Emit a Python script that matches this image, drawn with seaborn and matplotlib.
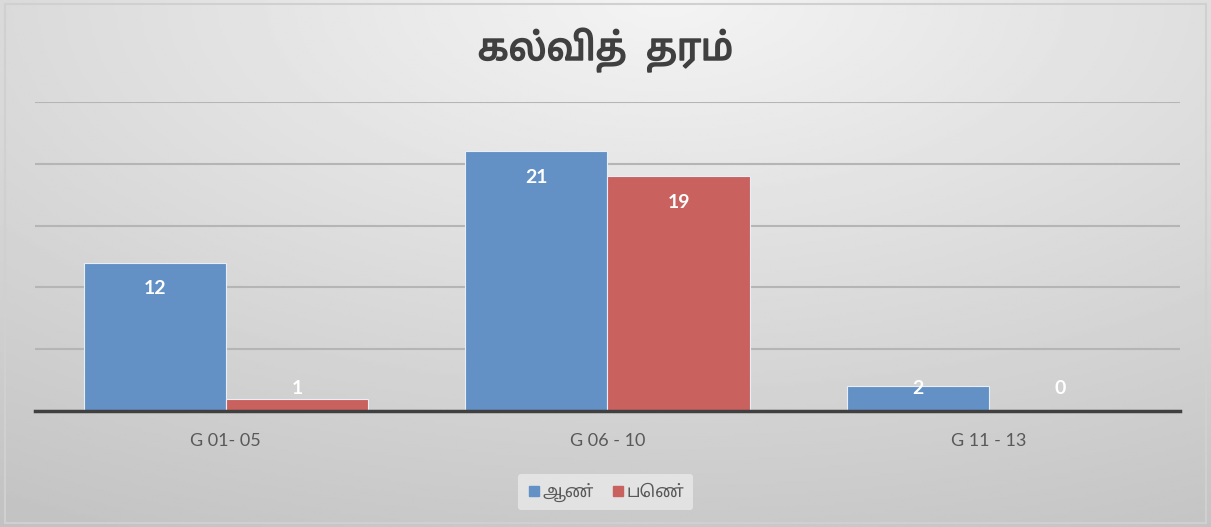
import numpy as np
import pandas as pd
import matplotlib
matplotlib.use("Agg")
import matplotlib.pyplot as plt
import matplotlib.patheffects as pe
from matplotlib.patches import Rectangle
import seaborn as sns

grades = ["G 01- 05", "G 06 - 10", "G 11 - 13"]
male = [12, 21, 2]
female = [1, 19, 0]
series = ["ஆண்", "பெண்"]
yticks = [0, 5, 10, 15, 20, 25]

sns.set_theme(style="white")
plt.rcParams['font.family'] = ['Lato', 'Noto Sans Tamil', 'DejaVu Sans']

df = pd.DataFrame({
    "grade": grades * 2,
    "count": male + female,
    "sex": [series[0]] * 3 + [series[1]] * 3,
})

fig = plt.figure(figsize=(12.11, 5.27), dpi=100)

# gradient background
bg = fig.add_axes([0, 0, 1, 1], zorder=-10)
yy, xx = np.mgrid[0:1:200j, 0:1:400j]
dist = np.sqrt(((xx - 0.55) * 1.1) ** 2 + ((yy - 0.0) * 1.0) ** 2)
shade = 0.955 - 0.2 * np.clip(dist, 0, 1.2) / 1.2
bg.imshow(shade, cmap="gray", vmin=0, vmax=1, aspect="auto", extent=[0, 1, 0, 1], origin="upper")
bg.set_xlim(0, 1)
bg.set_ylim(0, 1)
bg.axis("off")
fig.patches.append(Rectangle((0.004, 0.008), 0.992, 0.984, transform=fig.transFigure,
                             fill=False, edgecolor="#d0d0d0", lw=1.5))

ax = fig.add_axes([0.0289, 0.220, 0.9455, 0.5865])
ax.patch.set_visible(False)
sns.barplot(data=df, x="grade", y="count", hue="sex", palette=["#6391c6", "#c9625f"],
            width=0.745, gap=0.0, edgecolor="#e8eef6", linewidth=0.8, saturation=1,
            legend=False, ax=ax, zorder=3)

ax.set_ylim(0, 25)
ax.set_yticks(yticks)
ax.yaxis.grid(True, color="#b5b5b5", lw=1.5, zorder=0)
ax.set_axisbelow(True)
ax.tick_params(axis="y", left=False, labelleft=False)
ax.tick_params(axis="x", bottom=False, labelsize=13, labelcolor="#595959", pad=10)
for s in ["top", "right", "left"]:
    ax.spines[s].set_visible(False)
ax.spines["bottom"].set_color("#404040")
ax.spines["bottom"].set_linewidth(2.5)
ax.spines["bottom"].set_zorder(5)
ax.set_xlabel("")
ax.set_ylabel("")
ax.set_xlim(-0.5, 2.5)

# data labels
for cont in ax.containers:
    for rect in cont:
        v = rect.get_height()
        ypos = max(v - 2.1, 1.85)
        ax.text(rect.get_x() + rect.get_width() / 2, ypos, f"{int(round(v))}",
                ha="center", va="center", color="white", fontsize=14, fontweight="bold", zorder=6)

# legend
handles = [plt.Line2D([], [], marker="s", ls="", color=c, markersize=7)
           for c in ["#6391c6", "#c9625f"]]
leg = fig.legend(handles, series, loc="center", bbox_to_anchor=(0.5, 0.066), ncol=2,
                 frameon=True, fontsize=12.5, handletextpad=0.1, columnspacing=1.0,
                 borderpad=0.5, handlelength=0.8)
leg.get_frame().set_facecolor("#e9e9e9")
leg.get_frame().set_edgecolor("none")
leg.get_frame().set_alpha(0.8)
for t in leg.get_texts():
    t.set_color("#595959")

fig.text(0.5, 0.905, "கல்வித்  தரம்", ha="center", va="center", fontsize=27,
         color="#404040", family=["Noto Sans Tamil", "DejaVu Sans"],
         path_effects=[pe.withStroke(linewidth=1.2, foreground="#404040")])

fig.savefig("out.png", dpi=100)
